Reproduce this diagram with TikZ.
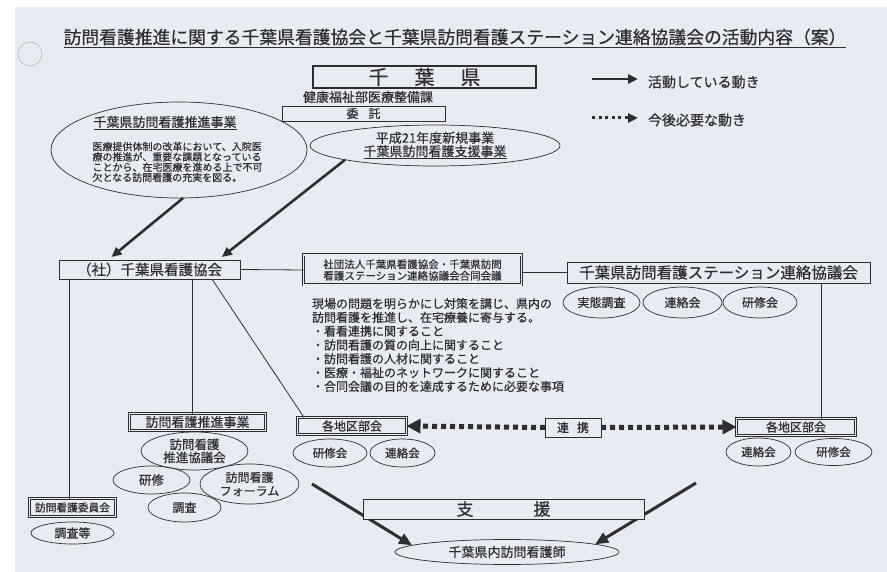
\documentclass[tikz,border=0pt]{standalone}
\usepackage{fontspec}
\setmainfont{Noto Sans CJK JP}[FakeBold=0.5]
\usetikzlibrary{shapes.geometric,arrows.meta,calc}
\definecolor{bg}{RGB}{232,236,242}
\definecolor{ink}{RGB}{45,45,52}
\newcommand{\fz}[1]{\fontsize{#1}{#1}\selectfont}
\begin{document}
\begin{tikzpicture}[x=1pt,y=-1pt,
  every node/.style={text=ink, inner sep=0pt, outer sep=0pt},
  box/.style={draw=ink, line width=0.7pt, fill=bg, rectangle},
  dbox/.style={box, double=bg, double distance=1.6pt, line width=0.7pt},
  ell/.style={draw=ink, line width=0.7pt, ellipse},
  conn/.style={draw=ink, line width=0.8pt},
  act/.style={draw=ink, line width=2.6pt, -{Triangle[length=10pt,width=9pt]}},
  futleg/.style={draw=ink, line width=3pt, dash pattern=on 3pt off 3.6pt, -{Triangle[length=10pt,width=9pt]}},
  fut/.style={draw=ink, line width=5pt, dash pattern=on 5pt off 4pt, -{Triangle[length=14pt,width=14pt]}},
  supp/.style={draw=ink, line width=3pt, -{Triangle[length=13pt,width=11pt]}},
]
\fill[white] (0,0) rectangle (887,572);
\fill[bg] (15,7) rectangle (887,572);
\useasboundingbox (0,0) rectangle (887,572);
\draw[gray!60, line width=0.6pt] (30,54) circle[radius=12pt];

% title
\node (title) at (455,38) {\fz{17.8}\underline{訪問看護推進に関する千葉県看護協会と千葉県訪問看護ステーション連絡協議会の活動内容（案）}};

% top
\node[box, line width=1.4pt, minimum width=223pt, minimum height=22pt] (ken) at (424.5,77) {\fz{20}千\hspace{26pt}葉\hspace{26pt}県};
\node (dept) at (368,97) {\fz{13}健康福祉部医療整備課};

\node[ell, minimum width=256pt, minimum height=96pt] (E1) at (179,150) {};
\node (E1t) at (165,123) {\fz{13}\underline{千葉県訪問看護推進事業}};
\node[align=left, font={\fontsize{10}{10.3}\selectfont}] (E1b) at (177.5,162) {医療提供体制の改革において、入院医\\療の推進が、重要な課題となっている\\ことから、在宅医療を進める上で不可\\欠となる訪問看護の充実を図る。};

\node[box, minimum width=163pt, minimum height=15pt] (itaku) at (363.5,113.5) {\fz{12}委\hspace{10pt}託};

\node[ell, minimum width=250pt, minimum height=41pt, align=center, font={\fontsize{13}{13.5}\selectfont}] (E2) at (435,145.5) {平成21年度新規事業\\\underline{千葉県訪問看護支援事業}};

% legend
\coordinate (L1a) at (592,79); \coordinate (L1b) at (638,79);
\draw[act] (L1a) -- (L1b);
\node[anchor=west] (L1t) at (648,82) {\fz{14}活動している動き};
\coordinate (L2a) at (592,118); \coordinate (L2b) at (638,118);
\draw[futleg] (L2a) -- (L2b);
\node[anchor=west] (L2t) at (648,120) {\fz{14}今後必要な動き};

% middle row
\node[box, minimum width=181pt, minimum height=19pt] (shakai) at (149.5,269.5) {\fz{14.5}（社）千葉県看護協会};
\node[dbox, minimum width=218pt, minimum height=30pt, align=center, font={\fontsize{10.5}{11.5}\selectfont}] (joint) at (412.5,270) {社団法人千葉県看護協会・千葉県訪問\\看護ステーション連絡協議会合同会議};
\node[box, minimum width=303pt, minimum height=21pt] (rbox) at (718.5,272.5) {\fz{15.5}千葉県訪問看護ステーション連絡協議会};

\draw[act] (E1.-85) -- ($(shakai.north west)!0.29!(shakai.north east)+(0,-3)$);
\draw[act] (E2.189) -- ($(shakai.north west)!0.9!(shakai.north east)+(0,-3)$);
\draw[conn] (shakai.east) -- (joint.west);
\draw[conn] (joint.east |- rbox.west) -- (rbox.west);

\node[ell, minimum width=77pt, minimum height=31pt] (r1) at (601.5,302.5) {\fz{12}実態調査};
\node[ell, minimum width=79pt, minimum height=31pt] (r2) at (682.5,302.5) {\fz{12}連絡会};
\node[ell, minimum width=74pt, minimum height=31pt] (r3) at (760,302.5) {\fz{12}研修会};

\node[anchor=north west, align=left, font={\fontsize{12}{13.8}\selectfont}] (goals) at (312,298) {現場の問題を明らかにし対策を講じ、県内の\\訪問看護を推進し、在宅療養に寄与する。\\・看看連携に関すること\\・訪問看護の質の向上に関すること\\・訪問看護の人材に関すること\\・医療・福祉のネットワークに関すること\\・合同会議の目的を達成するために必要な事項};

% lower left
\node[dbox, minimum width=136pt, minimum height=17pt] (promo) at (197.5,422) {\fz{13}訪問看護推進事業};
\node[ell, minimum width=107pt, minimum height=38pt, align=center, font={\fontsize{12.5}{13}\selectfont}] (pk) at (194.5,451) {訪問看護\\推進協議会};
\node[ell, minimum width=77pt, minimum height=28pt] (kenshu) at (151.5,480) {\fz{12.5}研修};
\node[ell, minimum width=99pt, minimum height=40pt, align=center, font={\fontsize{12}{13.5}\selectfont}] (forum) at (249.5,484) {訪問看護\\フォーラム};
\node[ell, minimum width=73pt, minimum height=29pt] (chosa) at (184.5,507.5) {\fz{12}調査};

\node[dbox, minimum width=86pt, minimum height=18pt] (commit) at (72.5,507.5) {\fz{10.7}訪問看護委員会};
\node[ell, minimum width=83pt, minimum height=22pt] (chosa2) at (72.5,533) {\fz{12}調査等};

\node[dbox, minimum width=109pt, minimum height=17pt] (llocal) at (352,426) {\fz{12}各地区部会};
\node[ell, minimum width=74pt, minimum height=28pt] (lk) at (330,453) {\fz{11.5}研修会};
\node[ell, minimum width=65pt, minimum height=28pt] (lr) at (402.5,453) {\fz{11.5}連絡会};

\node[box, minimum width=56pt, minimum height=19pt] (renkei) at (573,427.5) {\fz{12}連\hspace{8pt}携};
\node[dbox, minimum width=119pt, minimum height=17pt] (rlocal) at (796,427) {\fz{12}各地区部会};
\node[ell, minimum width=65pt, minimum height=28pt] (rr) at (758.5,452) {\fz{11.5}連絡会};
\node[ell, minimum width=77pt, minimum height=27pt] (rk) at (833.5,452) {\fz{11.5}研修会};

\coordinate (vL) at (69,0);
\coordinate (vM) at (192,0);
\coordinate (vR) at (821,0);
\draw[conn] (shakai.south -| vL) -- (commit.north -| vL);
\draw[conn] (shakai.south -| vM) -- (promo.north -| vM);
\draw[conn] ($(shakai.south west)!0.845!(shakai.south east)$) -- ($(llocal.north west)!0.06!(llocal.north east)$);
\draw[conn] (rbox.south -| vR) -- (rlocal.north -| vR);

\draw[fut] (renkei.west) -- (llocal.east);
\draw[fut] (renkei.east) -- (rlocal.west);

% bottom
\node[ell, minimum width=224pt, minimum height=25pt] (nurse) at (507,552) {\fz{13}千葉県内訪問看護師};
\coordinate (sA) at (312,484);
\coordinate (sB) at (696,483);
\draw[supp] (sA) -- (nurse.176);
\draw[supp] (sB) -- (nurse.5);
\node[box, minimum width=281pt, minimum height=20pt] (shien) at (503.5,509) {\fz{17}支\hspace{60pt}援};
\end{tikzpicture}
\end{document}
